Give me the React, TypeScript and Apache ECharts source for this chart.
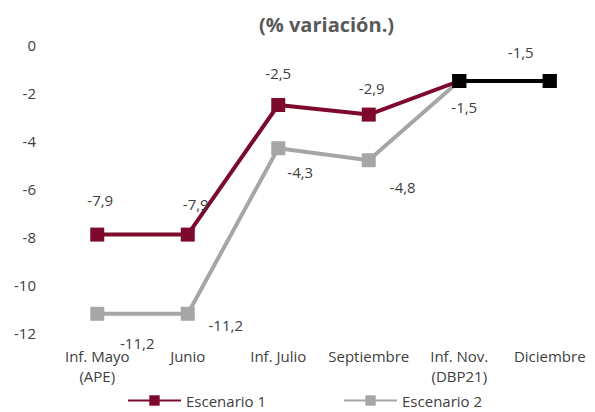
import React, { useEffect, useRef } from "react";
import * as echarts from "echarts";

const categories = ["Inf. Mayo\n(APE)", "Junio", "Inf. Julio", "Septiembre", "Inf. Nov.\n(DBP21)", "Diciembre"];
const escenario1 = [-7.9, -7.9, -2.5, -2.9, -1.5, -1.5];
const escenario2 = [-11.2, -11.2, -4.3, -4.8, -1.5, null];
const comun = [null, null, null, null, -1.5, -1.5];

// label offsets (dx, dy) from marker centre, per point
const offs1: (number[] | null)[] = [[3, -35], [8, -31], [0, -32], [3, -27], null, null];
const offs2: (number[] | null)[] = [[40, 29], [38, 11], [22, 24], [34, 27], [5, 26], null];
const offs3: (number[] | null)[] = [null, null, null, null, null, [-29, -29]];

const FONT = "'Open Sans', Lato, sans-serif";
const RED = "#7d0a2c";
const GRAY = "#a6a6a6";

function fmt(v: number) {
  return v.toFixed(1).replace(".", ",");
}

function build(values: (number | null)[], offs: (number[] | null)[]) {
  return values.map((v, i) => {
    const o = offs[i];
    if (v === null) return null;
    return {
      value: v,
      label: o
        ? { show: true, position: "inside", offset: o, formatter: () => fmt(v) }
        : { show: false },
    };
  });
}

const labelBase = { color: "#404040", fontSize: 15, fontFamily: FONT };

export default function App() {
  const ref = useRef<HTMLDivElement>(null);
  useEffect(() => {
    document.body.style.margin = "0";
    const chart = echarts.init(ref.current!, undefined, { renderer: "svg" });
    chart.setOption({
      animation: false,
      title: {
        text: "(% variación.)",
        left: 254,
        top: 9,
        textStyle: { fontSize: 20, fontWeight: "bold", color: "#595959", fontFamily: FONT },
      },
      grid: { left: 52, top: 45, width: 546, height: 288 },
      legend: {
        data: ["Escenario 1", "Escenario 2"],
        left: 127,
        top: 393,
        padding: 0,
        itemWidth: 53,
        itemHeight: 13,
        itemGap: 77,
        textStyle: { fontSize: 15, color: "#404040", fontFamily: FONT },
      },
      xAxis: {
        type: "category",
        data: categories,
        boundaryGap: true,
        axisLine: { show: false },
        axisTick: { show: false },
        axisLabel: { color: "#404040", fontSize: 15, fontFamily: FONT, margin: 13, lineHeight: 20, interval: 0 },
      },
      yAxis: {
        type: "value",
        min: -12,
        max: 0,
        interval: 2,
        splitLine: { show: false },
        axisLine: { show: false },
        axisTick: { show: false },
        axisLabel: { color: "#404040", fontSize: 15, fontFamily: FONT, margin: 16 },
      },
      series: [
        {
          name: "Escenario 1",
          type: "line",
          data: build(escenario1, offs1),
          symbol: "rect",
          symbolSize: 14,
          color: RED,
          lineStyle: { width: 4, color: RED },
          itemStyle: { color: RED },
          label: labelBase,
          z: 3,
        },
        {
          name: "Escenario 2",
          type: "line",
          data: build(escenario2, offs2),
          symbol: "rect",
          symbolSize: 14,
          color: GRAY,
          lineStyle: { width: 4, color: GRAY },
          itemStyle: { color: GRAY },
          label: labelBase,
          z: 2,
        },
        {
          name: "Común",
          type: "line",
          data: build(comun, offs3),
          symbol: "rect",
          symbolSize: 14,
          color: "#000000",
          lineStyle: { width: 4, color: "#000000" },
          itemStyle: { color: "#000000" },
          label: labelBase,
          z: 4,
        },
      ],
    });
    return () => chart.dispose();
  }, []);
  return <div ref={ref} style={{ width: 595, height: 412 }} />;
}
